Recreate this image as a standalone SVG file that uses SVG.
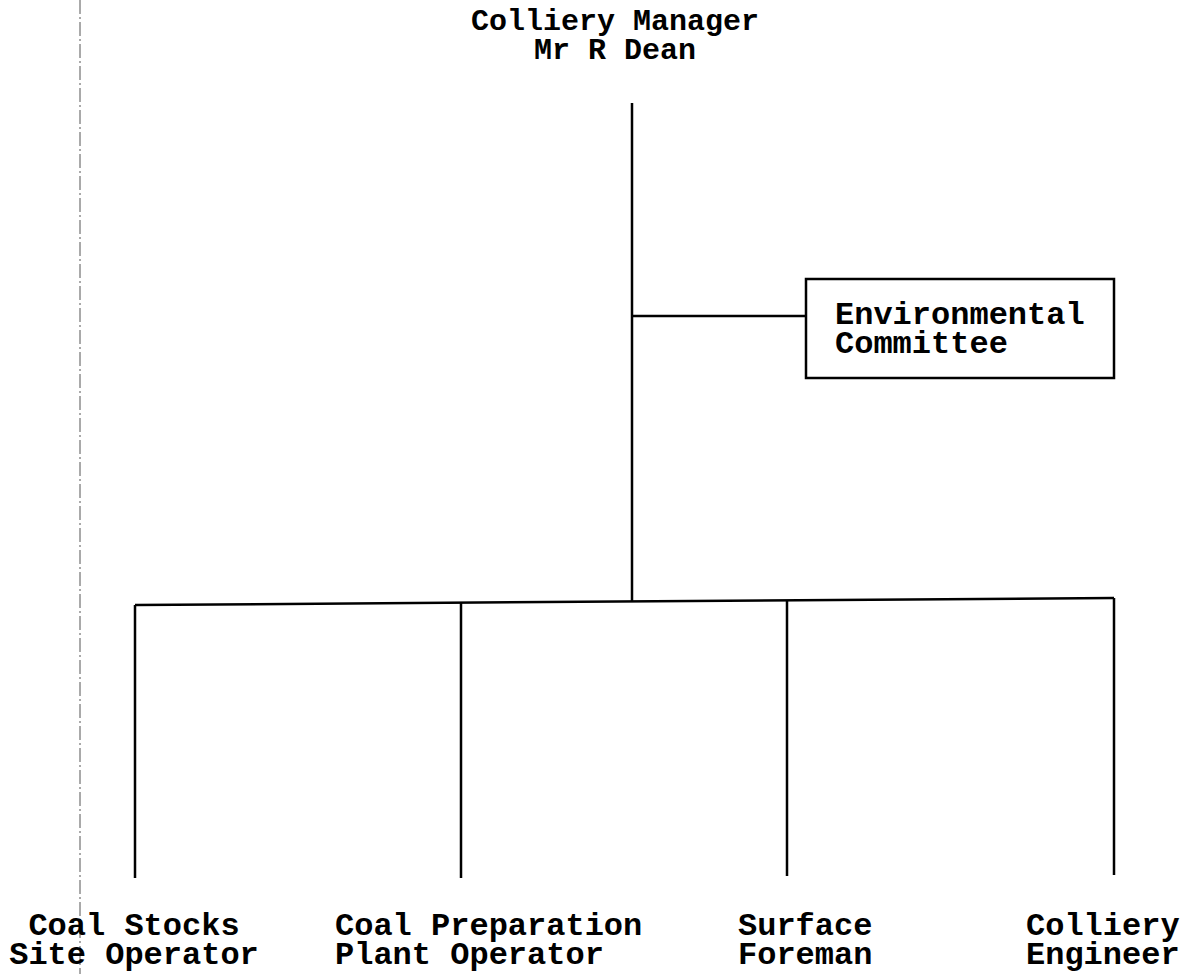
<svg xmlns="http://www.w3.org/2000/svg" width="1192" height="974" viewBox="0 0 1192 974">
<style>
text{font-family:"Liberation Mono","Courier New",monospace;font-weight:bold;font-size:32px;fill:#000}
.top{font-size:30px}
.ln{stroke:#000;stroke-width:2.5;fill:none}
.box{stroke:#000;stroke-width:2.5;fill:#fff}
.scan{stroke:#555;stroke-width:1;stroke-dasharray:14 3 2 3}
</style>
<rect width="1192" height="974" fill="#fff"/>
<line class="scan" x1="80" y1="0" x2="80" y2="974"/>
<g id="connectors">
<line class="ln" x1="632" y1="103" x2="632" y2="602"/>
<line class="ln" x1="632" y1="316" x2="806" y2="316"/>
<line class="ln" x1="135" y1="605" x2="1114" y2="598"/>
<line class="ln" x1="135" y1="605" x2="135" y2="878"/>
<line class="ln" x1="461" y1="603" x2="461" y2="878"/>
<line class="ln" x1="787" y1="600" x2="787" y2="876"/>
<line class="ln" x1="1114" y1="598" x2="1114" y2="875"/>
</g>
<g id="manager">
<text class="top" text-anchor="middle"><tspan x="615" y="30">Colliery Manager</tspan><tspan x="615" y="59">Mr R Dean</tspan></text>
</g>
<g id="env">
<rect class="box" x="806" y="279" width="308" height="99"/>
<text><tspan x="835" y="324">Environmental</tspan><tspan x="835" y="353">Committee</tspan></text>
</g>
<g id="coalstocks">
<text text-anchor="middle"><tspan x="134" y="935">Coal Stocks</tspan><tspan x="134" y="964">Site Operator</tspan></text>
</g>
<g id="coalprep">
<text><tspan x="335" y="935">Coal Preparation</tspan><tspan x="335" y="964">Plant Operator</tspan></text>
</g>
<g id="surface">
<text><tspan x="738" y="935">Surface</tspan><tspan x="738" y="964">Foreman</tspan></text>
</g>
<g id="engineer">
<text><tspan x="1026" y="935">Colliery</tspan><tspan x="1026" y="964">Engineer</tspan></text>
</g>
</svg>
